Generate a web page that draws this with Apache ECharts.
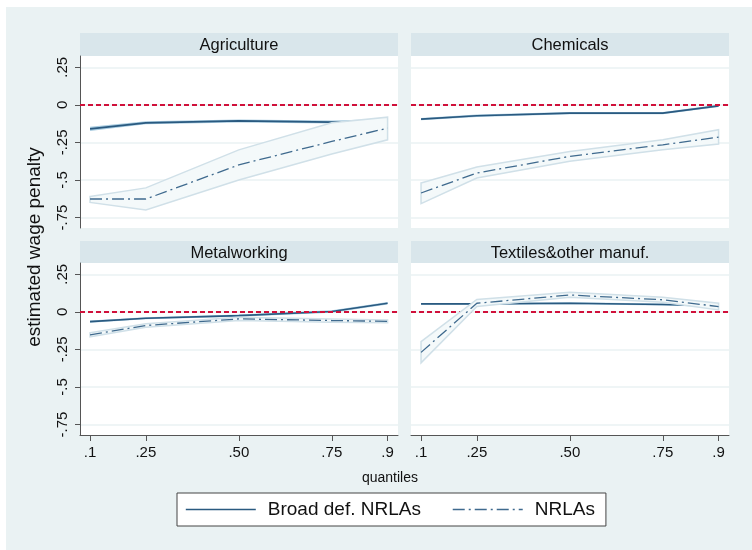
<!DOCTYPE html>
<html>
<head>
<meta charset="utf-8">
<script src="https://cdn.jsdelivr.net/npm/echarts@6/dist/echarts.min.js"></script>
<style>
html,body{margin:0;padding:0;background:#ffffff;}
#bg{position:absolute;left:6px;top:7px;width:746px;height:543px;background:#EAF2F3;}
#chart{position:absolute;left:0;top:0;width:752px;height:550px;}
</style>
</head>
<body>
<div id="bg"></div>
<div id="chart"></div>
<script>
// ---- data ----
const quantiles = [0.1, 0.25, 0.5, 0.75, 0.9];
const xTickLabels = ['.1', '.25', '.50', '.75', '.9'];
const yTickValues = [0.25, 0, -0.25, -0.5, -0.75];
const yTickLabels = ['.25', '0', '-.25', '-.5', '-.75'];
const panelNames = ['Agriculture', 'Chemicals', 'Metalworking', 'Textiles&other manuf.'];

// Agriculture
const agriBroad   = [-0.160, -0.120, -0.107, -0.115, -0.110];
const agriBroadLo = [-0.174, -0.130, -0.117, -0.125, -0.125];
const agriBroadHi = [-0.146, -0.110, -0.097, -0.105, -0.095];
const agriNrla    = [-0.627, -0.627, -0.400, -0.244, -0.155];
const agriNrlaLo  = [-0.650, -0.700, -0.500, -0.328, -0.233];
const agriNrlaHi  = [-0.610, -0.553, -0.300, -0.120, -0.082];

// Chemicals
const chemBroad   = [-0.095, -0.073, -0.055, -0.055, -0.007];
const chemBroadLo = [-0.103, -0.081, -0.063, -0.063, -0.015];
const chemBroadHi = [-0.087, -0.065, -0.047, -0.047, 0.001];
const chemNrla    = [-0.587, -0.454, -0.343, -0.266, -0.215];
const chemNrlaLo  = [-0.658, -0.487, -0.376, -0.299, -0.261];
const chemNrlaHi  = [-0.520, -0.414, -0.310, -0.233, -0.166];

// Metalworking
const metalBroad   = [-0.065, -0.043, -0.025, 0.002, 0.057];
const metalBroadLo = [-0.072, -0.050, -0.032, -0.006, 0.049];
const metalBroadHi = [-0.058, -0.036, -0.018, 0.010, 0.065];
const metalNrla    = [-0.153, -0.091, -0.047, -0.058, -0.063];
const metalNrlaLo  = [-0.166, -0.103, -0.058, -0.069, -0.072];
const metalNrlaHi  = [-0.140, -0.079, -0.036, -0.047, -0.054];

// Textiles & other manufacturing
const textBroad   = [0.053, 0.053, 0.057, 0.049, 0.040];
const textBroadLo = [0.047, 0.047, 0.051, 0.042, 0.032];
const textBroadHi = [0.059, 0.059, 0.063, 0.056, 0.048];
const textNrla    = [-0.270, 0.057, 0.112, 0.080, 0.035];
const textNrlaLo  = [-0.340, 0.035, 0.097, 0.064, 0.013];
const textNrlaHi  = [-0.198, 0.082, 0.130, 0.097, 0.057];

const panels = [
  {broad: agriBroad, broadLo: agriBroadLo, broadHi: agriBroadHi, nrla: agriNrla, nrlaLo: agriNrlaLo, nrlaHi: agriNrlaHi},
  {broad: chemBroad, broadLo: chemBroadLo, broadHi: chemBroadHi, nrla: chemNrla, nrlaLo: chemNrlaLo, nrlaHi: chemNrlaHi},
  {broad: metalBroad, broadLo: metalBroadLo, broadHi: metalBroadHi, nrla: metalNrla, nrlaLo: metalNrlaLo, nrlaHi: metalNrlaHi},
  {broad: textBroad, broadLo: textBroadLo, broadHi: textBroadHi, nrla: textNrla, nrlaLo: textNrlaLo, nrlaHi: textNrlaHi}
];

// ---- layout / style ----
const FONT = "'Liberation Sans', Arial, sans-serif";
const gridBoxes = [
  {left: 80, top: 56, width: 318, height: 172},
  {left: 411, top: 56, width: 318, height: 172},
  {left: 80, top: 263, width: 318, height: 172},
  {left: 411, top: 263, width: 318, height: 172}
];
const stripBoxes = [
  {x: 80, y: 33, w: 318, h: 23},
  {x: 411, y: 33, w: 318, h: 23},
  {x: 80, y: 241, w: 318, h: 22},
  {x: 411, y: 241, w: 318, h: 22}
];
const lineColor = '#2A5A80';
const nrlaColor = '#3F6A8E';
const broadBandColor = '#A9CCE0';
const nrlaBandFill = '#F4F9FA';
const nrlaBandStroke = '#D0E0E8';
const axisColor = '#555555';

function zip(xs, ys) { return xs.map((x, i) => [x, ys[i]]); }

function bandSeries(idx, lo, hi, fill, stroke, z) {
  return {
    type: 'custom',
    xAxisIndex: idx, yAxisIndex: idx,
    silent: true, z: z,
    data: [[quantiles[0], lo[0]]],
    renderItem: function (params, api) {
      const pts = [];
      for (let k = 0; k < quantiles.length; k++) pts.push(api.coord([quantiles[k], hi[k]]));
      for (let k = quantiles.length - 1; k >= 0; k--) pts.push(api.coord([quantiles[k], lo[k]]));
      return {
        type: 'polygon',
        shape: {points: pts},
        style: {fill: fill, stroke: stroke, lineWidth: stroke ? 1.5 : 0}
      };
    }
  };
}

const grids = [], xAxes = [], yAxes = [], series = [], graphics = [];

panels.forEach((p, i) => {
  const isBottom = i >= 2, isLeft = (i % 2) === 0;
  grids.push(Object.assign({show: true, backgroundColor: '#ffffff', borderWidth: 0}, gridBoxes[i]));
  xAxes.push({
    type: 'value', gridIndex: i, min: 0.073, max: 0.928,
    axisLine: {show: isBottom, onZero: false, lineStyle: {color: axisColor, width: 1}},
    axisTick: {show: isBottom, length: 6, customValues: quantiles, lineStyle: {color: axisColor}},
    axisLabel: {
      show: isBottom, customValues: quantiles, margin: 10,
      fontFamily: FONT, fontSize: 15, color: '#111',
      formatter: v => xTickLabels[quantiles.findIndex(q => Math.abs(q - v) < 1e-6)]
    },
    splitLine: {show: false}
  });
  yAxes.push({
    type: 'value', gridIndex: i, min: -0.82, max: 0.325,
    axisLine: {show: isLeft, onZero: false, lineStyle: {color: axisColor, width: 1}},
    axisTick: {show: isLeft, length: 5, customValues: yTickValues, lineStyle: {color: axisColor}},
    axisLabel: {
      show: isLeft, customValues: yTickValues, rotate: 90, margin: 10,
      fontFamily: FONT, fontSize: 15, color: '#111',
      formatter: v => yTickLabels[yTickValues.findIndex(t => Math.abs(t - v) < 1e-6)]
    },
    splitLine: {show: true, lineStyle: {color: '#EAF2F3', width: 1.5}}
  });

  // reference line at zero
  series.push({
    type: 'line', xAxisIndex: i, yAxisIndex: i, data: [], z: 2, silent: true,
    markLine: {
      silent: true, symbol: 'none', label: {show: false},
      lineStyle: {color: '#D0103A', type: [5, 3], width: 2},
      data: [{yAxis: 0}]
    }
  });
  series.push(bandSeries(i, p.broadLo, p.broadHi, broadBandColor, null, 3));
  series.push({
    name: 'Broad def. NRLAs', type: 'line', xAxisIndex: i, yAxisIndex: i,
    data: zip(quantiles, p.broad), symbol: 'none', z: 4,
    itemStyle: {color: lineColor},
    lineStyle: {color: lineColor, width: 1.6}
  });
  series.push(bandSeries(i, p.nrlaLo, p.nrlaHi, nrlaBandFill, nrlaBandStroke, 5));
  series.push({
    name: 'NRLAs', type: 'line', xAxisIndex: i, yAxisIndex: i,
    data: zip(quantiles, p.nrla), symbol: 'none', z: 6,
    itemStyle: {color: nrlaColor},
    lineStyle: {color: nrlaColor, width: 1.3, type: [12, 4, 2, 4]}
  });

  const s = stripBoxes[i];
  graphics.push({
    type: 'rect', shape: {x: s.x, y: s.y, width: s.w, height: s.h},
    style: {fill: '#D9E6EB'}, silent: true
  });
  graphics.push({
    type: 'text', x: s.x + s.w / 2, y: s.y + s.h / 2 + 1,
    style: {text: panelNames[i], fontFamily: FONT, fontSize: 16.5, fill: '#111', align: 'center', verticalAlign: 'middle'},
    silent: true
  });
});

graphics.push({
  type: 'text', x: 35, y: 247, rotation: Math.PI / 2,
  style: {text: 'estimated wage penalty', fontFamily: FONT, fontSize: 19, fill: '#111', align: 'center', verticalAlign: 'middle'},
  silent: true
});
graphics.push({
  type: 'text', x: 390, y: 478,
  style: {text: 'quantiles', fontFamily: FONT, fontSize: 14, fill: '#111', align: 'center', verticalAlign: 'middle'},
  silent: true
});

const chart = echarts.init(document.getElementById('chart'), null, {renderer: 'canvas'});
chart.setOption({
  animation: false,
  grid: grids,
  xAxis: xAxes,
  yAxis: yAxes,
  series: series,
  graphic: graphics,
  legend: {
    data: ['Broad def. NRLAs', 'NRLAs'],
    left: 177, top: 493,
    backgroundColor: '#ffffff',
    borderColor: '#444444', borderWidth: 1,
    padding: [7, 11, 7, 8],
    itemGap: 31, itemWidth: 70, itemHeight: 14,
    selectedMode: false,
    itemStyle: {opacity: 0},
    lineStyle: {width: 1.6},
    textStyle: {fontFamily: FONT, fontSize: 19, color: '#111', padding: [0, 0, 0, 7]}
  }
});
</script>
</body>
</html>
